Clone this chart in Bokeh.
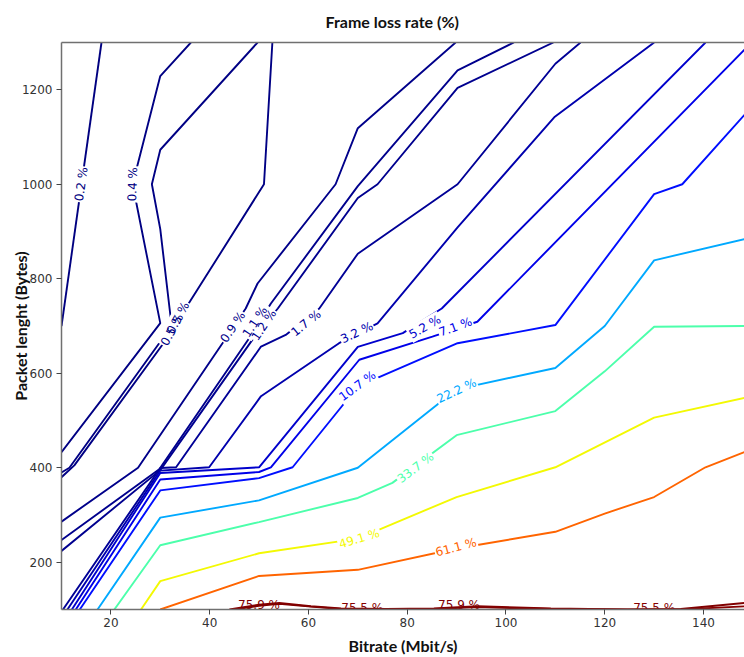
import numpy as np
from bokeh.plotting import figure
from bokeh.models import LinearAxis, FixedTicker, Range1d
from bokeh.embed import file_html
from bokeh.resources import INLINE
from bokeh.core.properties import value

# ---------------- data ----------------
title_text = "Frame loss rate (%)"
x_ticks = [20, 40, 60, 80, 100, 120, 140]
y_ticks = [200, 400, 600, 800, 1000, 1200]

# contour lines: bitrate (Mbit/s) vs packet length (Bytes), level in %
l02_x = [10, 18.1]
l02_y = [700, 1300]
l04_x = [36.2, 30, 24.4, 30, 10]
l04_y = [1300, 1229, 1000, 706, 433]
l05a_x = [49.7, 30, 28.3, 30, 32.3, 11.6, 10]
l05a_y = [1300, 1073, 1000, 905, 700, 400, 390]
l05b_x = [52.7, 51, 35.3, 33.2, 12.6, 10]
l05b_y = [1300, 1000, 740, 700, 405, 380]
l09_x = [10, 25.5, 42.6, 47.3, 49.7, 65.5, 70, 89.8]
l09_y = [286, 400, 663.6, 737, 790, 1000, 1118.7, 1300]
l11_x = [10, 29.8, 48, 52.4, 70, 90.2, 101.6]
l11_y = [247, 397, 674, 747.7, 996, 1241, 1300]
l12_x = [10, 30, 49, 53.8, 70, 74, 90.2, 109.6]
l12_y = [224, 395, 676, 737, 971, 1000, 1204, 1300]
l17_x = [10.3, 30, 33.2, 50.4, 55.4, 62.2, 70, 90.2, 110, 115.1]
l17_y = [100, 399.6, 401, 656.5, 681, 737, 853, 1000, 1255, 1300]
l32_x = [11.2, 30, 39.9, 50.4, 66.2, 74, 90.2, 109.9, 130]
l32_y = [100, 394, 401, 551.5, 663.6, 705.7, 908.6, 1143, 1300]
l52_x = [12.1, 30, 50, 70, 79.1, 87, 140.4]
l52_y = [100, 389, 401, 656, 685, 737, 1300]
l71_x = [12.9, 30, 50, 52.4, 70.3, 85.1, 94.2, 148.3]
l71_y = [100, 375, 391, 401, 628.6, 677.5, 709, 1285]
l107_x = [13.7, 30, 50, 56.8, 70, 90.2, 110, 130, 135.7, 148.3]
l107_y = [100, 352, 378, 401, 572, 663.6, 702, 979, 1000, 1147]
l222_x = [17.3, 30, 50, 70, 90, 110, 120, 130, 148.3]
l222_y = [100, 294.5, 331, 400, 566, 611, 700, 839, 884]
l337_x = [20.7, 30, 50, 70, 77, 90, 110, 120, 130, 148.3]
l337_y = [100, 236, 285, 336, 368, 469, 520, 604, 698.5, 700]
l491_x = [26.1, 30, 50, 70, 90, 110, 130, 148.3]
l491_y = [100, 160, 219, 250, 338, 401, 506, 548]
l611_x = [30, 50, 70, 90, 110, 120, 130, 140.4, 148.3]
l611_y = [100, 171, 184, 229, 264.5, 303, 338, 401, 433]
l755_x = [44, 50, 54.1, 60.5, 66.6, 75.7, 85.4, 94.2, 109.1, 124.6, 135.4, 148.3]
l755_y = [100, 110, 113.9, 107, 102, 101, 102, 107, 102, 100, 100, 106.7]
l759_x = [45, 50, 54.1, 60.5, 66.6, 75.7, 85.4, 94.2, 109.1, 124.6, 135.4, 148.3]
l759_y = [100, 108, 112, 106, 101, 100.2, 101, 105, 101, 100.2, 101, 113.9]

lines = [
    (0.2, l02_x, l02_y), (0.4, l04_x, l04_y), (0.5, l05a_x, l05a_y),
    (0.5, l05b_x, l05b_y), (0.9, l09_x, l09_y), (1.1, l11_x, l11_y),
    (1.2, l12_x, l12_y), (1.7, l17_x, l17_y), (3.2, l32_x, l32_y),
    (5.2, l52_x, l52_y), (7.1, l71_x, l71_y), (10.7, l107_x, l107_y),
    (22.2, l222_x, l222_y), (33.7, l337_x, l337_y), (49.1, l491_x, l491_y),
    (61.1, l611_x, l611_y), (75.5, l755_x, l755_y), (75.9, l759_x, l759_y),
]

# inline contour labels
label_level = [0.2, 0.4, 0.5, 0.5, 0.9, 1.1, 1.2, 1.7, 3.2, 5.2, 7.1, 10.7, 22.2, 33.7, 49.1, 61.1]
label_x = [14.0, 24.4, 32.4, 33.6, 44.7, 49.2, 51.0, 59.5, 69.8, 83.6, 89.8, 69.9, 90.0, 81.7, 70.3, 89.9]
label_y = [1000, 1000, 692, 717, 698, 709, 702, 706, 686, 698, 698, 573, 563, 400, 250, 231.6]
label_angle = [82, 88, 62, 62, 56, 56, 56, 39, 25, 30, 20, 36, 25, 37, 17, 15]

red_label_level = [75.9, 75.5, 75.9, 75.5]
red_label_x = [50, 70.9, 90.5, 130]
red_label_y = [109.7, 103, 109.7, 103]

# ---------------- jet colormap ----------------
VMIN, VMAX = 0.2, 75.9


def jet(v):
    t = (v - VMIN) / (VMAX - VMIN)
    r = np.interp(t, [0, 0.35, 0.66, 0.89, 1], [0, 0, 1, 1, 0.5])
    g = np.interp(t, [0, 0.125, 0.375, 0.64, 0.91, 1], [0, 0, 1, 1, 0, 0])
    b = np.interp(t, [0, 0.11, 0.34, 0.65, 1], [0.5, 1, 1, 0, 0])
    return "#%02x%02x%02x" % (int(round(r * 255)), int(round(g * 255)), int(round(b * 255)))


# ---------------- figure ----------------
p = figure(width=744, height=657,
           x_range=Range1d(10, 148.3), y_range=Range1d(100, 1300),
           output_backend="svg", toolbar_location=None,
           min_border_left=61, min_border_right=0,
           min_border_top=42, min_border_bottom=45,
           background_fill_color="white", border_fill_color="white")
p.xgrid.visible = False
p.ygrid.visible = False
p.outline_line_color = None

p.title.text = title_text
p.title.text_font = "Lato"
p.title.text_font_style = "bold"
p.title.text_font_size = "16px"
p.title.align = "left"
p.title.offset = 264
p.title.vertical_align = "top"
p.title.standoff = 20
p.title.text_color = "#111111"

axis_col = "#707070"
for ax in (p.xaxis[0], p.yaxis[0]):
    ax.axis_line_color = axis_col
    ax.axis_line_width = 1.5
    ax.major_tick_line_color = "#444444"
    ax.major_tick_in = 0
    ax.major_tick_out = 5
    ax.minor_tick_line_color = None
    ax.major_label_text_font = "DejaVu Sans"
    ax.major_label_text_font_size = "12px"
    ax.major_label_text_color = "#333333"
    ax.axis_label_text_font = "Lato"
    ax.axis_label_text_font_style = "bold"
    ax.axis_label_text_font_size = "16px"
    ax.axis_label_text_color = "#111111"

p.xaxis.ticker = FixedTicker(ticks=x_ticks)
p.yaxis.ticker = FixedTicker(ticks=y_ticks)
p.xaxis.axis_label = "Bitrate (Mbit/s)"
p.yaxis.axis_label = "Packet lenght (Bytes)"
p.xaxis.major_label_standoff = 3
p.xaxis.axis_label_standoff = 6
p.yaxis.major_label_standoff = 4
p.yaxis.axis_label_standoff = -11

top_axis = LinearAxis(ticker=FixedTicker(ticks=[]), axis_line_color=axis_col,
                      axis_line_width=1.5, major_tick_line_color=None,
                      minor_tick_line_color=None, major_label_text_font_size="0px",
                      major_label_standoff=0)
p.add_layout(top_axis, "above")

for lev, xs, ys in lines:
    p.line(xs, ys, line_color=jet(lev), line_width=1.9)

lab_cols = [jet(v) for v in label_level]
lab_text = ["%g %%" % v for v in label_level]
lab_ang = list(np.deg2rad(label_angle))

# white boxes first (cut the lines), then the texts
p.text(x=label_x, y=label_y, text=lab_text, angle=lab_ang,
       text_font=value("DejaVu Sans"), text_font_size=value("12px"),
       text_align="center", text_baseline="middle",
       text_alpha=0, background_fill_color="white", padding=1)
p.text(x=label_x, y=label_y, text=lab_text, angle=lab_ang, text_color=lab_cols,
       text_font=value("DejaVu Sans"), text_font_size=value("12px"),
       text_align="center", text_baseline="middle")

p.text(x=red_label_x, y=red_label_y, text=["%g %%" % v for v in red_label_level],
       text_color=[jet(v) for v in red_label_level],
       text_font=value("DejaVu Sans"), text_font_size=value("12px"),
       text_align="center", text_baseline="middle")

open("out.html", "w").write(file_html(p, INLINE))
